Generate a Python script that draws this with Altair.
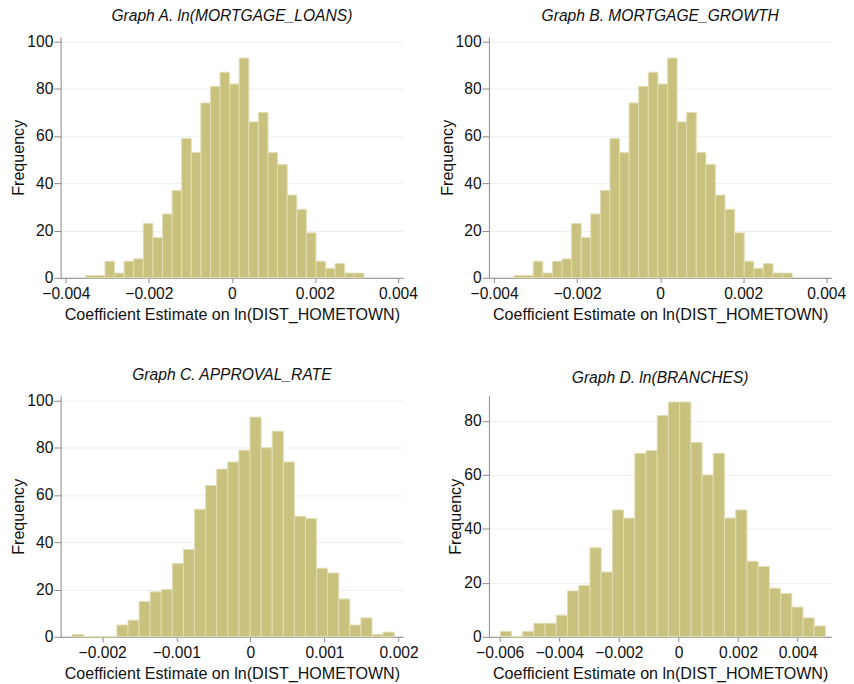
import altair as alt
import pandas as pd

# ---- data (1000 bootstrap estimates per panel) ----
titles = [
    "Graph A. ln(MORTGAGE_LOANS)",
    "Graph B. MORTGAGE_GROWTH",
    "Graph C. APPROVAL_RATE",
    "Graph D. ln(BRANCHES)",
]

counts_a = [1, 1, 7, 2, 7, 8, 23, 17, 27, 37, 59, 53, 74, 81, 87, 82, 93, 66, 70,
            53, 48, 35, 29, 19, 7, 4, 6, 2, 2]
counts_b = [1, 1, 7, 2, 7, 8, 23, 17, 27, 37, 59, 53, 74, 81, 87, 82, 93, 66, 70,
            53, 48, 35, 29, 19, 7, 4, 6, 2, 2]
counts_c = [1, 0, 0, 0, 5, 7, 15, 19, 20, 31, 37, 54, 64, 71, 74, 79, 93, 80, 87,
            74, 51, 50, 29, 27, 16, 5, 8, 1, 2]
counts_d = [2, 0, 2, 5, 5, 8, 17, 19, 33, 24, 47, 44, 68, 69, 82, 87, 87, 72, 60,
            68, 44, 47, 28, 26, 18, 16, 11, 7, 4]

# histogram range (lowest bin start, highest bin end) per panel
bin_lo = [-0.00352, -0.00352, -0.00240, -0.00598]
bin_hi = [0.00318, 0.00318, 0.00194, 0.00493]

x_ticks_ab = [-0.004, -0.002, 0, 0.002, 0.004]
x_ticks_c = [-0.002, -0.001, 0, 0.001, 0.002]
x_ticks_d = [-0.006, -0.004, -0.002, 0, 0.002, 0.004]
y_ticks_abc = [0, 20, 40, 60, 80, 100]
y_ticks_d = [0, 20, 40, 60, 80]

x_domains = [[-0.004125, 0.004125], [-0.004125, 0.004125],
             [-0.00256, 0.00206], [-0.00636, 0.00513]]
y_domains = [[0, 102], [0, 102], [0, 102], [0, 89.3]]

x_title = "Coefficient Estimate on ln(DIST_HOMETOWN)"
y_title = "Frequency"

FONT = "Liberation Sans"
BAR = "#c9c27f"
EDGE = "#e2ddb4"


def histogram_frame(counts, lo, hi):
    n = len(counts)
    w = (hi - lo) / n
    return pd.DataFrame({
        "start": [lo + i * w for i in range(n)],
        "end": [lo + (i + 1) * w for i in range(n)],
        "count": counts,
    })


def panel(title, counts, lo, hi, xticks, yticks, xdom, ydom):
    df = histogram_frame(counts, lo, hi)
    return alt.Chart(df).mark_rect(
        color=BAR, stroke=EDGE, strokeWidth=1
    ).encode(
        x=alt.X("start:Q",
                scale=alt.Scale(domain=xdom, nice=False, zero=False),
                axis=alt.Axis(values=xticks, title=x_title, grid=False,
                              labelExpr="datum.value == 0 ? '0' : format(datum.value, '.3f')",
                              tickSize=5, labelPadding=3, titlePadding=6,
                              labelFontSize=16, titleFontSize=16.5,
                              labelFlush=False, labelOverlap=False)),
        x2="end:Q",
        y=alt.Y("count:Q",
                scale=alt.Scale(domain=ydom, nice=False),
                axis=alt.Axis(values=yticks, title=y_title, grid=True,
                              gridColor="#e8f0f0", tickSize=7, labelPadding=1,
                              titlePadding=0, labelFontSize=16, titleFontSize=16.5)),
        y2=alt.datum(0),
    ).properties(
        width=351, height=247,
        title=alt.TitleParams(title, fontStyle="italic", fontWeight="normal",
                              fontSize=16, font=FONT, offset=10, color="#111"),
    )


charts = []
all_counts = [counts_a, counts_b, counts_c, counts_d]
all_xticks = [x_ticks_ab, x_ticks_ab, x_ticks_c, x_ticks_d]
all_yticks = [y_ticks_abc, y_ticks_abc, y_ticks_abc, y_ticks_d]
for i in range(4):
    charts.append(panel(titles[i], all_counts[i], bin_lo[i], bin_hi[i],
                        all_xticks[i], all_yticks[i], x_domains[i], y_domains[i]))

chart = alt.concat(
    *charts, columns=2, bounds="flush",
    spacing=alt.RowColnumber(row=121, column=88),
).configure(
    padding={"top": -9, "left": 3, "right": 0, "bottom": 0}, background="white"
).configure_view(
    stroke=None
).configure_axis(
    labelFont=FONT, titleFont=FONT, labelColor="#111", titleColor="#111",
    domainColor="#888", tickColor="#888", titleFontWeight="normal",
)

chart.save("out.html", embed_options={"renderer": "svg", "actions": False})
